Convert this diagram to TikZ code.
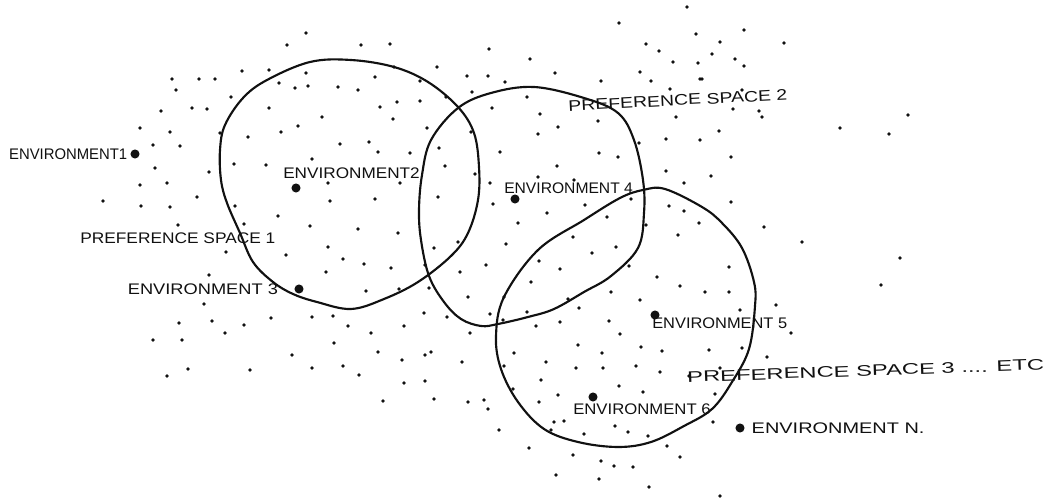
\documentclass[tikz,border=0pt]{standalone}
\usepackage{fontspec}
\usepackage{tikz}
\usetikzlibrary{positioning}
\newfontfamily\handfont{Liberation Sans}
\definecolor{ink}{HTML}{111111}
\newcommand{\stretchx}[2]{\scalebox{#1}[1]{#2}}
\tikzset{
  space/.style={draw=ink, line width=1.6pt, line join=round},
  speck/.style={fill=ink},
  envdot/.style={circle, fill=ink, inner sep=0pt, minimum size=6.8pt},
  hand/.style={font=\handfont\fontsize{11.5}{13}\selectfont, color=ink, inner sep=0pt},
}

\begin{document}
\begin{tikzpicture}[x=0.75pt, y=-0.75pt]

\fill[white] (0,0) rectangle (1053,498);
\useasboundingbox (0,0) rectangle (1053,498);

% the field of possible environments
\foreach \px/\py in {
  306/33, 287/45, 242/71, 269/70, 215/79, 199/79, 172/79, 176/90, 231/97,
  306/73, 279/83, 295/88, 308/86, 338/87, 161/111, 192/108, 207/109, 269/108,
  322/117, 140/128, 170/132, 220/133, 248/137, 281/132, 298/126, 153/145,
  180/146, 340/144, 312/159, 155/168, 209/172, 234/164, 266/165, 140/185,
  167/183, 328/183, 103/201, 141/206, 170/207, 197/197, 235/206, 330/201,
  278/216, 178/225, 244/224, 310/226, 328/247,
  687/7, 619/23, 696/34, 361/45, 390/44, 489/49, 530/59, 646/44, 659/51,
  673/62, 698/63, 394/67, 437/67, 375/77, 420/81, 467/76, 488/76, 505/82,
  555/73, 601/81, 640/72, 651/81, 670/89, 700/79, 358/90, 472/92, 527/97,
  446/97, 397/102, 420/101, 380/107, 492/108, 540/114, 598/121, 676/117,
  393/119, 427/128, 471/132, 558/127, 538/134, 639/143, 666/139, 700/140,
  369/142, 410/153, 378/152, 439/148, 500/152, 599/153, 618/157, 557/166,
  445/166, 475/174, 538/177, 574/180, 666/171, 400/183, 490/183, 684/183,
  375/199, 438/197, 493/204, 547/213, 585/205, 607/217, 631/199, 669/206,
  684/211, 358/229, 398/233, 518/223, 646/225, 699/223, 458/242, 434/248,
  506/244, 573/237, 616/247, 678/235,
  744/30, 784/43, 720/42, 712/54, 735/59, 744/66, 702/79, 742/90, 733/109,
  759/111, 762/117, 719/131, 840/128, 889/134, 908/115, 731/157, 711/176,
  731/202, 764/227, 802/242,
  226/252, 286/255, 343/259, 326/272, 209/275, 204/304, 179/323, 212/321,
  244/325, 271/318, 312/317, 333/316, 348/326, 225/333, 153/340, 182/340,
  334/343, 292/355, 188/369, 250/370, 312/368, 343/366, 167/376,
  364/264, 391/268, 425/265, 486/265, 460/272, 539/261, 560/269, 592/253,
  629/266, 366/291, 399/289, 429/288, 468/297, 531/282, 504/297, 568/299,
  579/308, 611/292, 640/300, 657/277, 680/286, 424/313, 447/317, 490/314,
  527/312, 503/320, 536/326, 560/322, 609/321, 404/326, 371/333, 470/333,
  620/334, 578/345, 602/353, 641/347, 662/351, 378/352, 402/360, 425/355,
  431/352, 462/362, 514/353, 546/362, 576/368, 603/368, 636/366, 660/372,
  689/376, 359/375, 504/366, 404/383, 425/381, 541/380, 619/386, 643/392,
  513/389, 558/395, 383/401, 434/399, 468/402, 484/400, 488/409, 539/402,
  554/422, 564/421, 615/426, 628/432, 648/436, 584/434, 499/430, 551/430,
  529/448, 573/455, 601/461, 614/466, 633/467, 667/446, 680/457, 556/475,
  599/479, 649/487,
  900/258, 881/285, 729/267, 705/292, 729/292, 740/310, 776/305, 791/333,
  709/350, 742/348, 767/357, 720/368, 715/394, 713/422, 720/496}
  \fill[speck] (\px,\py) circle (1.9);

% preference spaces
\draw[space] plot[smooth cycle, tension=0.6] coordinates {
  (310,62) (351,60) (394,67) (428,82) (458,107) (474,133) (479,167)
  (478,200) (468,233) (451,256) (418,282) (384,299) (351,309) (317,302)
  (293,294) (273,282) (253,262) (240,233) (227,203) (221,180) (220,150)
  (225,125) (243,98) (267,80)};
\draw[space] plot[smooth cycle, tension=0.6] coordinates {
  (534,87) (584,98) (618,113) (634,140) (643,180) (644,213) (638,248)
  (611,276) (584,292) (554,309) (528,317) (498,324) (481,326) (461,319)
  (444,302) (429,276) (421,240) (419,210) (422,175) (431,140) (458,108)
  (491,93)};
\draw[space] plot[smooth cycle, tension=0.6] coordinates {
  (643,190) (665,189) (702,207) (722,223) (742,248) (754,282) (755,306)
  (749,349) (732,382) (712,409) (684,426) (651,442) (618,447) (578,442)
  (544,429) (518,402) (501,369) (496,336) (504,297) (538,250) (584,220)
  (620,198)};

% environments
\node[envdot] (env1) at (135,154) {};
\node[envdot] (env2) at (296,188) {};
\node[envdot] (env3) at (299,289) {};
\node[envdot] (env4) at (515,199) {};
\node[envdot] (env5) at (655,315) {};
\node[envdot] (env6) at (593,397) {};
\node[envdot] (envn) at (740,428) {};

\node[hand, left=2pt of env1] (env1lbl) {\stretchx{0.97}{ENVIRONMENT1}};
\node[hand, anchor=west] (env2lbl) at (283,173) {\stretchx{1.12}{ENVIRONMENT2}};
\node[hand, left=12pt of env3] (env3lbl) {\stretchx{1.19}{ENVIRONMENT 3}};
\node[hand, anchor=west] (env4lbl) at (504,188) {\stretchx{1.02}{ENVIRONMENT 4}};
\node[hand, anchor=west] (env5lbl) at (652,323) {\stretchx{1.07}{ENVIRONMENT 5}};
\node[hand, anchor=west] (env6lbl) at (573,409) {\stretchx{1.09}{ENVIRONMENT 6}};
\node[hand, right=5pt of envn] (envnlbl) {\stretchx{1.3}{ENVIRONMENT N.}};

\node[hand, anchor=west] (ps1) at (80,238) {\stretchx{1.13}{PREFERENCE SPACE 1}};
\node[hand, anchor=west, rotate=3] (ps2) at (568,106) {\stretchx{1.27}{PREFERENCE SPACE 2}};
\node[hand, anchor=west, rotate=2] (ps3) at (687,377) {\stretchx{1.55}{PREFERENCE SPACE 3 .... ETC}};

\end{tikzpicture}
\end{document}
